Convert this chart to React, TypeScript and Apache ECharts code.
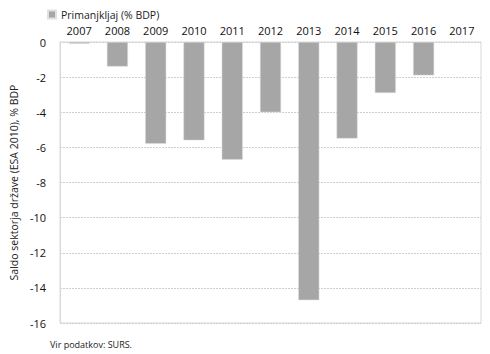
import React, { useEffect, useRef } from "react";
import * as echarts from "echarts";

const years = ["2007", "2008", "2009", "2010", "2011", "2012", "2013", "2014", "2015", "2016", "2017"];
const deficit: (number | null)[] = [-0.1, -1.4, -5.8, -5.6, -6.7, -4.0, -14.7, -5.5, -2.9, -1.9, null];
const seriesName = "Primanjkljaj (% BDP)";
const yAxisTitle = "Saldo sektorja države (ESA 2010), % BDP";
const sourceNote = "Vir podatkov: SURS.";

const FONT = "Open Sans";

export default function App() {
  const ref = useRef<HTMLDivElement>(null);
  useEffect(() => {
    if (!ref.current) return;
    const chart = echarts.init(ref.current, undefined, { renderer: "svg" });
    chart.setOption({
      animation: false,
      textStyle: { fontFamily: FONT },
      legend: {
        left: 42,
        top: 4,
        itemWidth: 8,
        itemHeight: 8,
        itemGap: 4,
        icon: "rect",
        textStyle: { fontFamily: FONT, fontSize: 10.5, color: "#222" },
        data: [seriesName],
      },
      grid: {
        left: 50,
        right: 9,
        top: 42,
        bottom: 31,
        show: true,
        borderColor: "#d9d9d9",
        borderWidth: 1,
      },
      xAxis: {
        type: "category",
        position: "top",
        data: years,
        axisLine: { show: false },
        axisTick: { show: false },
        axisLabel: { fontFamily: FONT, fontSize: 11, color: "#111", margin: 6, interval: 0 },
      },
      yAxis: {
        type: "value",
        min: -16,
        max: 0,
        interval: 2,
        name: yAxisTitle,
        nameLocation: "middle",
        nameGap: 38,
        nameTextStyle: { fontFamily: FONT, fontSize: 10.5, color: "#222" },
        axisLine: { show: true, lineStyle: { color: "#d9d9d9" } },
        axisTick: { show: false },
        axisLabel: { fontFamily: FONT, fontSize: 11, color: "#111", margin: 14 },
        splitLine: { show: true, lineStyle: { color: "#cfcfcf", type: [2, 1] } },
      },
      series: [
        {
          name: seriesName,
          type: "bar",
          data: deficit,
          barWidth: "55%",
          itemStyle: { color: "#a6a6a6", borderColor: "#e0e0e0", borderWidth: 0.5 },
        },
      ],
      graphic: [
        {
          type: "text",
          left: 50,
          top: 340,
          style: { text: sourceNote, fontFamily: FONT, fontSize: 9, fill: "#222" },
        },
      ],
    });
    return () => chart.dispose();
  }, []);
  return <div ref={ref} style={{ position: "absolute", left: 0, top: 0, width: 490, height: 354 }} />;
}
